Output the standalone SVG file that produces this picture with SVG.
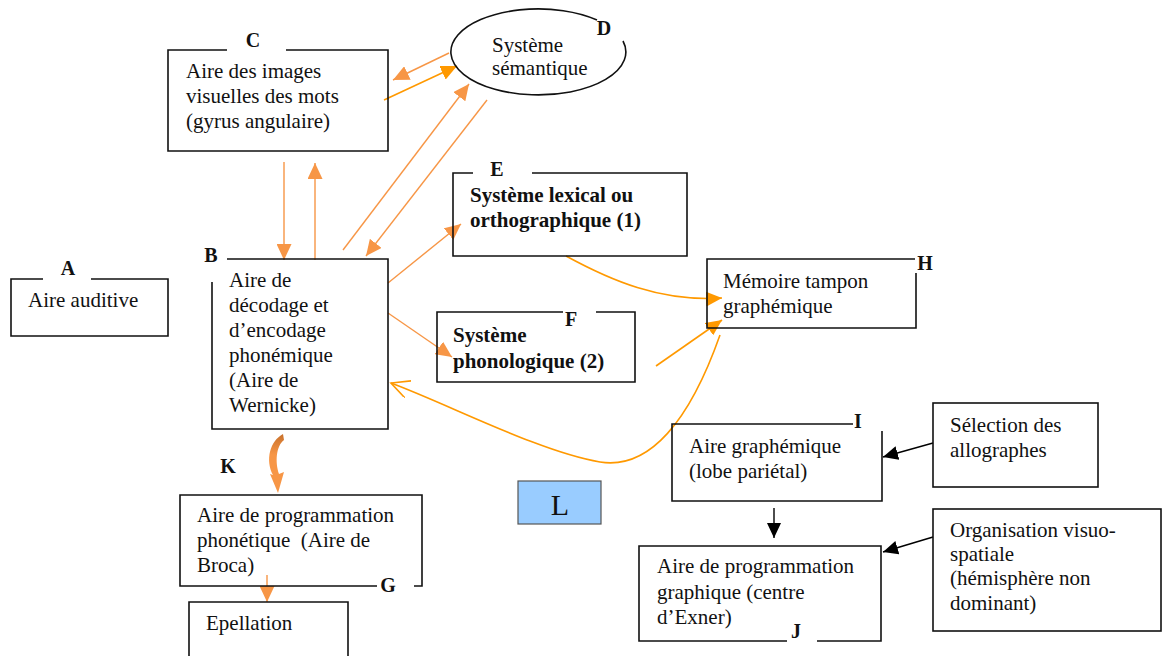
<svg xmlns="http://www.w3.org/2000/svg" width="1163" height="656" viewBox="0 0 1163 656">
<style>
  text { font-family: "Liberation Serif", "Times New Roman", serif; font-size: 21px; fill: #111; }
  .b { font-weight: bold; }
  .lbl { font-weight: bold; font-size: 20px; text-anchor: middle; }
  .box { fill: none; stroke: #111; stroke-width: 1.6; }
  .o1 { fill: none; stroke: #f79646; stroke-width: 1.4; }
  .o2 { fill: none; stroke: #ff9900; stroke-width: 1.6; }
  .k { fill: none; stroke: #000; stroke-width: 1.4; }
</style>
<defs>
  <marker id="a1" markerUnits="userSpaceOnUse" markerWidth="17" markerHeight="15" refX="16" refY="7.5" orient="auto">
    <path d="M0,0 L16,7.5 L0,15 z" fill="#f79646"/>
  </marker>
  <marker id="a2" markerUnits="userSpaceOnUse" markerWidth="17" markerHeight="15" refX="16" refY="7.5" orient="auto">
    <path d="M0,0 L16,7.5 L0,15 z" fill="#ff9900"/>
  </marker>
  <marker id="a3" markerUnits="userSpaceOnUse" markerWidth="20" markerHeight="20" refX="18" refY="9" orient="auto">
    <path d="M0,0 L18,9 L0,18" fill="none" stroke="#ff9900" stroke-width="1.6"/>
  </marker>
  <marker id="ak" markerUnits="userSpaceOnUse" markerWidth="16" markerHeight="15" refX="15" refY="7" orient="auto">
    <path d="M0,0 L15,7 L0,14 z" fill="#000"/>
  </marker>
  <linearGradient id="kg" x1="0" y1="0" x2="0" y2="1">
    <stop offset="0" stop-color="#c8712c"/>
    <stop offset="0.35" stop-color="#f79646"/>
    <stop offset="1" stop-color="#f79646"/>
  </linearGradient>
</defs>

<g id="connectors">
  <path class="o1" d="M449,53 L393,80" marker-end="url(#a1)"/>
  <path class="o2" d="M384,100 L457,66" marker-end="url(#a2)"/>
  <path class="o1" d="M284,162 L284,260" marker-end="url(#a1)"/>
  <path class="o1" d="M315,260 L315,163" marker-end="url(#a1)"/>
  <path class="o1" d="M343,250 L469,84" marker-end="url(#a1)"/>
  <path class="o1" d="M487,100 L366,256" marker-end="url(#a1)"/>
  <path class="o1" d="M388,283 L461,224" marker-end="url(#a1)"/>
  <path class="o1" d="M388,313 L452,357" marker-end="url(#a1)"/>
  <path class="o2" d="M566,256 C610,280 660,302 722,298" marker-end="url(#a2)"/>
  <path class="o2" d="M656,366 L722,320" marker-end="url(#a2)"/>
  <path class="o2" d="M720,335 C690,420 650,470 600,462 C540,452 450,405 391,383" marker-end="url(#a3)"/>
  <path d="M283,434 C270,441 265,460 273,475 L270,474 L278,493 L284,472 L279,474 C275,462 276,446 284,440 Z" fill="url(#kg)"/>
  <path class="o1" d="M267,575 L267,602" marker-end="url(#a1)"/>
  <path class="k" d="M933,443 L883,457" marker-end="url(#ak)"/>
  <path class="k" d="M774,508 L774,538" marker-end="url(#ak)"/>
  <path class="k" d="M933,537 L883,552" marker-end="url(#ak)"/>
</g>

<g id="nodeA">
  <path class="box" d="M91,279 L168,279 L168,336 L11,336 L11,279 L43,279"/>
  <text class="lbl" x="68" y="275">A</text>
  <text x="28" y="307">Aire auditive</text>
</g>

<g id="nodeB">
  <path class="box" d="M227,259 L388,259 L388,429 L212,429 L212,282"/>
  <text class="lbl" x="211" y="262">B</text>
  <text x="229" y="287">Aire de</text>
  <text x="229" y="312">décodage et</text>
  <text x="229" y="337">d’encodage</text>
  <text x="229" y="362">phonémique</text>
  <text x="229" y="387">(Aire de</text>
  <text x="229" y="412">Wernicke)</text>
</g>

<g id="nodeC">
  <path class="box" d="M286,50 L388,50 L388,151 L168,151 L168,50 L227,50"/>
  <text class="lbl" x="253" y="47">C</text>
  <text x="186" y="78">Aire des images</text>
  <text x="186" y="103">visuelles des mots</text>
  <text x="186" y="128">(gyrus angulaire)</text>
</g>

<g id="nodeD">
  <path class="box" d="M623,41 A87.5,43 0 1 1 597,20"/>
  <text class="lbl" x="604" y="35">D</text>
  <text x="492" y="52">Système</text>
  <text x="492" y="75">sémantique</text>
</g>

<g id="nodeE">
  <path class="box" d="M532,173 L687,173 L687,256 L453,256 L453,173 L473,173"/>
  <text class="lbl" x="497" y="176">E</text>
  <text class="b" x="470" y="202">Système lexical ou</text>
  <text class="b" x="470" y="227">orthographique (1)</text>
</g>

<g id="nodeF">
  <path class="box" d="M596,312 L635,312 L635,382 L437,382 L437,312 L563,312"/>
  <text class="lbl" x="571" y="326">F</text>
  <text class="b" x="453" y="342">Système</text>
  <text class="b" x="453" y="368">phonologique (2)</text>
</g>

<g id="nodeG">
  <path class="box" d="M377,586 L180,586 L180,495 L422,495 L422,586 L414,586"/>
  <text class="lbl" x="388" y="592">G</text>
  <text x="197" y="522">Aire de programmation</text>
  <text x="197" y="547" xml:space="preserve">phonétique  (Aire de</text>
  <text x="197" y="572">Broca)</text>
</g>

<g id="nodeEpellation">
  <path class="box" d="M189,660 L189,602 L348,602 L348,660"/>
  <text x="206" y="630">Epellation</text>
</g>

<g id="nodeH">
  <path class="box" d="M916,273 L916,328 L707,328 L707,259 L915,259"/>
  <text class="lbl" x="925" y="270">H</text>
  <text x="723" y="288">Mémoire tampon</text>
  <text x="723" y="313">graphémique</text>
</g>

<g id="nodeI">
  <path class="box" d="M882,431 L882,501 L672,501 L672,424 L853,424"/>
  <text class="lbl" x="858" y="428">I</text>
  <text x="689" y="453">Aire graphémique</text>
  <text x="689" y="478">(lobe pariétal)</text>
</g>

<g id="nodeJ">
  <path class="box" d="M817,641 L881,641 L881,546 L639,546 L639,641 L787,641"/>
  <text class="lbl" x="796" y="638">J</text>
  <text x="657" y="573">Aire de programmation</text>
  <text x="657" y="599">graphique (centre</text>
  <text x="657" y="624">d’Exner)</text>
</g>

<g id="nodeK">
  <text class="lbl" x="228" y="473">K</text>
</g>

<g id="nodeL">
  <rect x="518" y="481" width="83" height="43" fill="#99ccff" stroke="#555" stroke-width="1.2"/>
  <text x="560" y="515" style="font-size:30px" text-anchor="middle">L</text>
</g>

<g id="nodeSelection">
  <rect class="box" x="933" y="403" width="165" height="84"/>
  <text x="950" y="432">Sélection des</text>
  <text x="950" y="457">allographes</text>
</g>

<g id="nodeOrganisation">
  <rect class="box" x="933" y="509" width="228" height="122"/>
  <text x="950" y="537">Organisation visuo-</text>
  <text x="950" y="561">spatiale</text>
  <text x="950" y="585">(hémisphère non</text>
  <text x="950" y="610">dominant)</text>
</g>
</svg>
